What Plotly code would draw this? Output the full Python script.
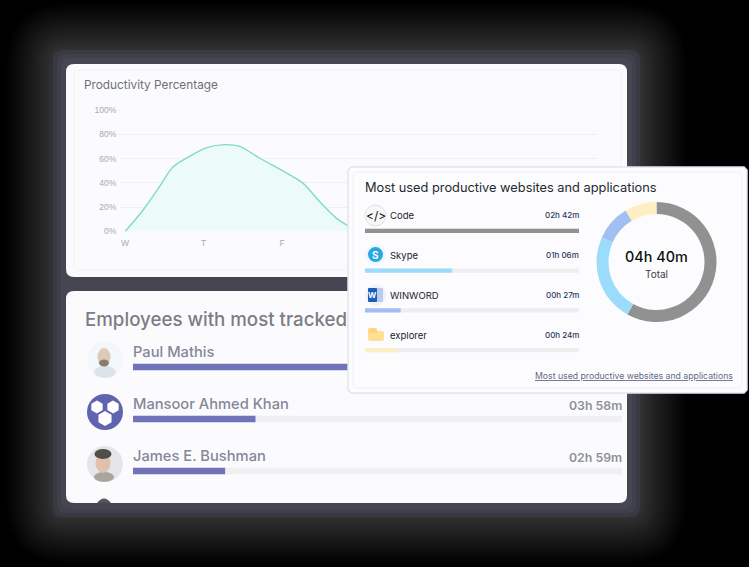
import plotly.graph_objects as go

W, H = 749, 567
FONT = "Inter"

# productivity curve, x in days from the first tick
day_pos = [0, 0.23, 0.45, 0.61, 0.80, 1.04, 1.27, 1.46, 1.71, 2.06, 2.26, 2.48, 2.69, 2.83, 3, 4, 5, 6]
productivity = [0, 17.7, 38, 53, 61, 69, 71.5, 70, 60.5, 48, 40, 24.5, 11, 5, 0, 0, 0, 0]
day_ticks = [0, 1, 2, 3, 4, 5, 6]
day_labels = ["W", "T", "F", "S", "S", "M", "T"]
pct_ticks = [0, 20, 40, 60, 80, 100]
pct_labels = ["0%", "20%", "40%", "60%", "80%", "100%"]

# employees, minutes tracked (first one is hidden behind the popup)
employees = ["Paul Mathis", "Mansoor Ahmed Khan", "James E. Bushman"]
employee_minutes = [950, 238, 179]
employee_times = ["", "03h 58m", "02h 59m"]

# apps, minutes
apps = ["Code", "Skype", "WINWORD", "explorer"]
app_minutes = [162, 66, 27, 24]
app_times = ["02h 42m", "01h 06m", "00h 27m", "00h 24m"]
app_colors = ["#919191", "#9bdcfb", "#a2bff4", "#fdeec4"]


def px(x):
    return x / W


def py(y):
    return 1 - y / H


def box(x0, y0, x1, y1, r, fill="rgba(0,0,0,0)", line=None, layer="below"):
    # rounded rect in pixel coords of the page
    path = (f"M{px(x0+r)},{py(y0)} L{px(x1-r)},{py(y0)} Q{px(x1)},{py(y0)} {px(x1)},{py(y0+r)} "
            f"L{px(x1)},{py(y1-r)} Q{px(x1)},{py(y1)} {px(x1-r)},{py(y1)} "
            f"L{px(x0+r)},{py(y1)} Q{px(x0)},{py(y1)} {px(x0)},{py(y1-r)} "
            f"L{px(x0)},{py(y0+r)} Q{px(x0)},{py(y0)} {px(x0+r)},{py(y0)} Z")
    return dict(type="path", path=path, xref="paper", yref="paper", fillcolor=fill, layer=layer,
                line=dict(width=1 if line else 0, color=line or "rgba(0,0,0,0)"))


def dot(cx, cy, rx, ry=None, fill="#fff", line=None, layer="above"):
    ry = ry or rx
    return dict(type="circle", xref="paper", yref="paper", x0=px(cx-rx), x1=px(cx+rx), y0=py(cy+ry), y1=py(cy-ry),
                fillcolor=fill, layer=layer, line=dict(width=1 if line else 0, color=line or "rgba(0,0,0,0)"))


def hexagon(cx, cy, r, fill="#ffffff"):
    pts = [(cx, cy - r), (cx + r * 0.87, cy - r / 2), (cx + r * 0.87, cy + r / 2),
           (cx, cy + r), (cx - r * 0.87, cy + r / 2), (cx - r * 0.87, cy - r / 2)]
    path = "M" + " L".join(f"{px(a)},{py(b)}" for a, b in pts) + " Z"
    return dict(type="path", path=path, xref="paper", yref="paper", fillcolor=fill, layer="above", line=dict(width=0))


def label(x, y, text, size, color, anchor="left", weight=400):
    return dict(x=px(x), y=py(y), xref="paper", yref="paper", text=text, showarrow=False, xanchor=anchor,
                yanchor="middle", font=dict(family=FONT, size=size, color=color, weight=weight))


def hidden_axis(**kw):
    return dict(visible=False, fixedrange=True, automargin=False, **kw)


fig = go.Figure()

# area chart
fig.add_trace(go.Scatter(x=day_pos, y=productivity, mode="lines", fill="tozeroy", fillcolor="#ecfbf7",
                         line=dict(color="#7fdcc2", width=1.4, shape="spline", smoothing=1),
                         xaxis="x", yaxis="y", hoverinfo="skip"))

# employee bars
fig.add_trace(go.Bar(y=employees, x=[max(employee_minutes)] * len(employees), orientation="h", marker_color="#f0f0f2",
                     xaxis="x2", yaxis="y2", width=0.125, hoverinfo="skip"))
fig.add_trace(go.Bar(y=employees, x=employee_minutes, orientation="h", marker_color="#7073b8",
                     xaxis="x2", yaxis="y2", width=0.125, hoverinfo="skip"))

# popup card has to sit over the chart and the bars, so it lives on its own page-sized axes
card_x = [351, 744, 747, 747, 744, 351, 348, 348, 351]
card_y = [167, 167, 170, 390, 393, 393, 390, 170, 167]
fig.add_trace(go.Scatter(x=card_x, y=card_y, mode="lines", fill="toself", fillcolor="#fcfcfe",
                         line=dict(color="#e3e5ee", width=1.5), xaxis="x3", yaxis="y3", hoverinfo="skip"))

# app bars
fig.add_trace(go.Bar(y=apps, x=[max(app_minutes)] * len(apps), orientation="h", marker_color="#eeeeef",
                     xaxis="x4", yaxis="y4", width=0.11, hoverinfo="skip"))
fig.add_trace(go.Bar(y=apps, x=app_minutes, orientation="h", marker_color=app_colors,
                     xaxis="x4", yaxis="y4", width=0.11, hoverinfo="skip"))

# donut
fig.add_trace(go.Pie(values=app_minutes, labels=apps, hole=0.8, sort=False, direction="clockwise", rotation=0,
                     marker=dict(colors=app_colors), textinfo="none", hoverinfo="skip", showlegend=False,
                     domain=dict(x=[px(596.5), px(716.5)], y=[py(322), py(202)])))

shapes = []
# glow round the panel, solid steps because tiny alphas round away to nothing
for grow in range(48, 0, -1):
    v = round(50 * (1 - grow / 49) ** 1.1)
    shapes.append(box(53 - grow, 50 - grow, 640 + grow, 517 + grow, 12 + grow, fill=f"rgb({v},{v},{v})"))
shapes.append(box(53, 50, 640, 517, 10, fill="#383943"))
shapes.append(box(57, 54, 636, 513, 9, fill="#3f404b"))
shapes.append(box(61, 58, 632, 509, 9, fill="#454651"))
# cards
shapes.append(box(66, 64, 627, 277, 8, fill="#fbfbfd"))
shapes.append(box(74, 70, 621, 270, 5, line="#f2f2f6"))
shapes.append(box(66, 291, 627, 503, 8, fill="#fbfbfd"))
shapes.append(box(353, 172, 742, 388, 5, line="#eff0f4", layer="above"))

# avatars
shapes.append(dot(105, 360, 18, fill="#f3f7fb"))
shapes.append(dot(105, 372, 11, 6, fill="#dbe4ea"))
shapes.append(dot(104, 357, 6.5, 9, fill="#dccbb9"))
shapes.append(dot(104, 363, 5, 3.5, fill="#8c7a6c"))
shapes.append(dot(105, 412, 18, fill="#5f64b0"))
shapes.append(hexagon(97, 407, 6.5))
shapes.append(hexagon(113, 407, 6.5))
shapes.append(hexagon(105, 418, 9, fill="#5f64b0"))
shapes.append(hexagon(105, 418.5, 7.5))
shapes.append(dot(105, 464, 18, fill="#e6e6e8"))
shapes.append(dot(104, 477, 10, 5, fill="#a9a59c"))
shapes.append(dot(103, 463, 7.5, 10, fill="#dfc1ae"))
shapes.append(dot(103, 454, 8.5, 5, fill="#4f4e4a"))
shapes.append(dict(type="path", xref="paper", yref="paper", layer="above", fillcolor="#55555a", line=dict(width=0),
                   path=f"M{px(97)},{py(503)} Q{px(104)},{py(494)} {px(111)},{py(503)} Z"))

# app icons
shapes.append(dot(375.5, 215.5, 10.5, fill="#f7f7f8", line="#e2e2e4", layer="above"))
shapes.append(dot(375.5, 255, 10.5, fill="#eef8fe", layer="above"))
shapes.append(dot(375.5, 254.5, 7.5, fill="#27a8e4", layer="above"))
shapes.append(dot(375.5, 295, 10.5, fill="#f0f2fb", layer="above"))
shapes.append(box(368, 288, 383, 302, 1, fill="#b9cdf0", layer="above"))
shapes.append(box(368, 288, 377, 302, 1, fill="#1c5fb8", layer="above"))
shapes.append(box(368, 331, 384, 341, 2, fill="#fedf94", layer="above"))
shapes.append(box(368, 328, 377, 333, 1.5, fill="#fdd57e", layer="above"))

annotations = [
    label(82, 85, "Productivity Percentage", 11.8, "#6f7078"),
    label(83, 319, "Employees with most tracked", 18.7, "#7c7d84", weight=500),
    label(363, 187, "Most used productive websites and applications", 12.8, "#1f2a30"),
    label(656.5, 256, "04h 40m", 14.4, "#111111", "center", 500),
    label(656.5, 274, "Total", 10, "#3c3c40", "center"),
    label(735, 376, "<u>Most used productive websites and applications</u>", 8.7, "#5f6b86", "right"),
    label(375.5, 215.5, "&lt;/&gt;", 12, "#111111", "center"),
    label(375.5, 255, "S", 10, "#ffffff", "center", 700),
    label(372.5, 295, "W", 8, "#ffffff", "center", 700),
]
for name, time, y in zip(employees, employee_times, [352, 404, 456]):
    annotations.append(label(131, y, name, 14.7, "#85879a", weight=500))
    if time:
        annotations.append(label(624, y + 1, time, 12.3, "#8e9099", "right", 600))
for name, time, y in zip(apps, app_times, [215, 255, 295, 335]):
    annotations.append(label(388, y, name, 9.5, "#20242a"))
    annotations.append(label(581, y, time, 8, "#2c3a58", "right", 500))

fig.update_layout(
    template="none", width=W, height=H, margin=dict(l=0, r=0, t=0, b=0, pad=0), paper_bgcolor="#000000",
    plot_bgcolor="rgba(0,0,0,0)", showlegend=False, barmode="overlay", shapes=shapes, annotations=annotations,
    xaxis=dict(domain=[px(120), px(597)], range=[-0.064, 6.01], tickvals=day_ticks, ticktext=day_labels, showgrid=False,
               zeroline=False, showline=False, fixedrange=True, automargin=False, ticks="outside", ticklen=3,
               tickcolor="rgba(0,0,0,0)", tickfont=dict(family="Liberation Sans", size=8.5, color="#a9a9ad"), anchor="y"),
    yaxis=dict(domain=[py(231.5), py(110)], range=[0, 100], tickvals=pct_ticks, ticktext=pct_labels, gridcolor="#f0f0f3",
               zeroline=False, showline=False, fixedrange=True, automargin=False, ticks="outside", ticklen=1,
               tickcolor="rgba(0,0,0,0)", tickfont=dict(family="Liberation Sans", size=8.5, color="#a9a9ad"), anchor="x"),
    xaxis2=hidden_axis(domain=[px(133), px(622)], range=[0, max(employee_minutes)], anchor="y2"),
    yaxis2=hidden_axis(domain=[py(497), py(341)], autorange="reversed", anchor="x2"),
    xaxis3=hidden_axis(domain=[0, 1], range=[0, W], anchor="y3"),
    yaxis3=hidden_axis(domain=[0, 1], range=[H, 0], anchor="x3"),
    xaxis4=hidden_axis(domain=[px(365), px(579)], range=[0, max(app_minutes)], anchor="y4"),
    yaxis4=hidden_axis(domain=[py(370), py(211)], autorange="reversed", anchor="x4"),
)

fig.write_html("out.html", config=dict(displayModeBar=False), post_script="document.body.style.margin='0';")
